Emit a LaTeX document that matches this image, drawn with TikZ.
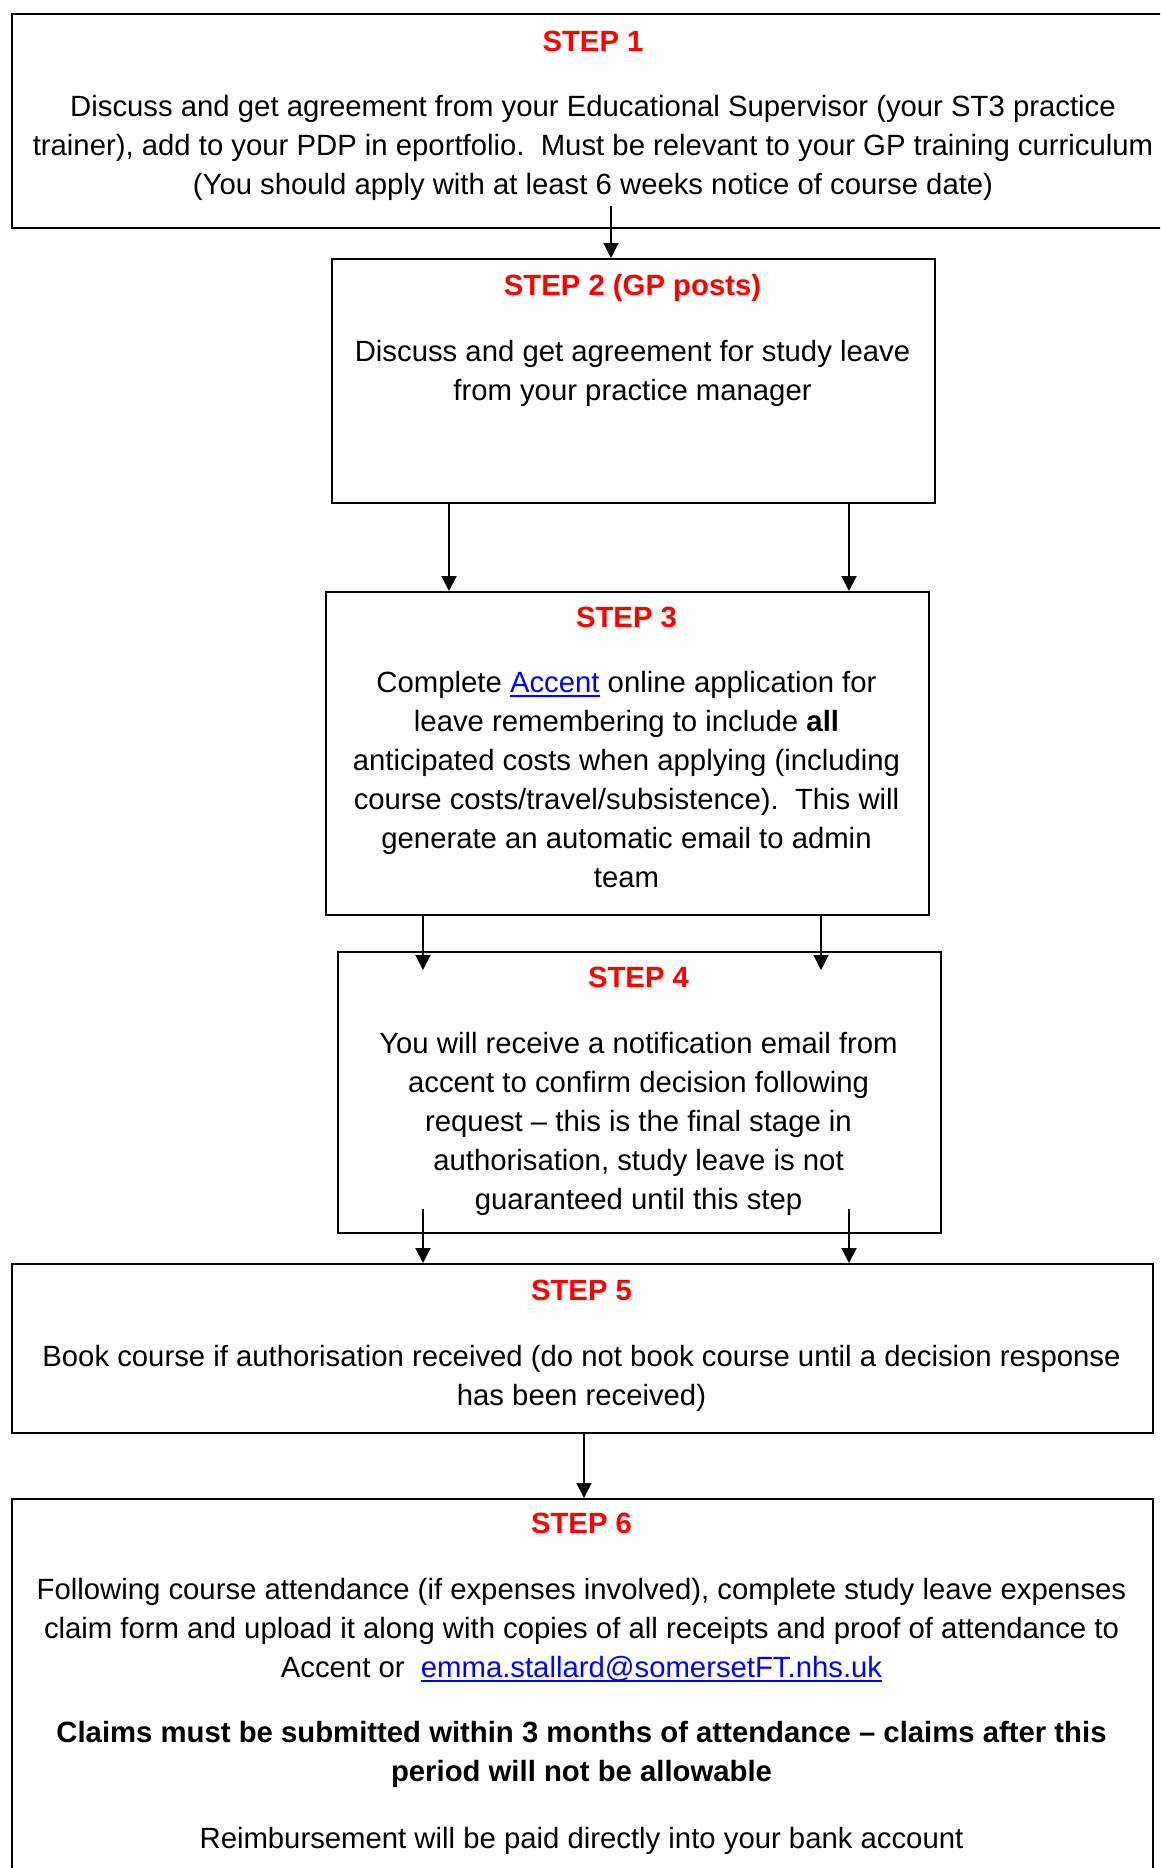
\documentclass[tikz,border=0pt]{standalone}
\usepackage{fontspec}
\setmainfont{Liberation Sans}
\usetikzlibrary{arrows.meta}
\definecolor{stepred}{HTML}{FF0000}
\definecolor{linkblue}{HTML}{0000FF}
\newcommand\mylink[1]{\textcolor{linkblue}{\setbox0\hbox{#1}\rlap{\rule[-5pt]{\wd0}{2pt}}\box0}}
\begin{document}
\begin{tikzpicture}[x=1pt,y=-1pt,
  stepbox/.style={draw=black, line width=2pt, rectangle, inner sep=0pt, anchor=north west},
  title/.style={font=\fontsize{29.3}{39}\selectfont\bfseries, text=stepred, inner sep=0pt, anchor=base},
  body/.style={font=\fontsize{29.3}{39}\selectfont, align=center, inner sep=0pt, anchor=base},
  arr/.style={line width=2pt, -{Triangle[width=15pt,length=15pt]}}]
\useasboundingbox (0,0) rectangle (1160,1868);
\clip (0,0) rectangle (1160,1868);
% boxes
\node[stepbox, minimum width=1164pt, minimum height=214pt] (s1) at (11,13) {};
\node[stepbox, minimum width=603pt, minimum height=244pt] (s2) at (331,258) {};
\node[stepbox, minimum width=603pt, minimum height=323pt] (s3) at (325,591) {};
\node[stepbox, minimum width=603pt, minimum height=281pt] (s4) at (337,951) {};
\node[stepbox, minimum width=1141pt, minimum height=169pt] (s5) at (11,1263) {};
\node[stepbox, minimum width=1141pt, minimum height=420pt] (s6) at (11,1498) {};
% texts (anchor base = baseline of the last line)
\node[title] (t1) at (593,52) {STEP 1};
\node[body] (b1) at (593,194) {Discuss and get agreement from your Educational Supervisor (your ST3 practice\\trainer), add to your PDP in eportfolio.\ \ Must be relevant to your GP training curriculum\\(You should apply with at least 6 weeks notice of course date)};
\node[title] (t2) at (632.5,295) {STEP 2 (GP posts)};
\node[body] (b2) at (632.5,400) {Discuss and get agreement for study leave\\from your practice manager};
\node[title] (t3) at (626.5,627) {STEP 3};
\node[body] (b3) at (626.5,887) {Complete \mylink{Accent} online application for\\leave remembering to include \textbf{all}\\anticipated costs when applying (including\\course costs/travel/subsistence).\ \ This will\\generate an automatic email to admin\\team};
\node[title] (t4) at (638.5,987) {STEP 4};
\node[body] (b4) at (638.5,1209) {You will receive a notification email from\\accent to confirm decision following\\request – this is the final stage in\\authorisation, study leave is not\\guaranteed until this step};
\node[title] (t5) at (581.5,1300) {STEP 5};
\node[body] (b5) at (581.5,1405) {Book course if authorisation received (do not book course until a decision response\\has been received)};
\node[title] (t6) at (581.5,1533) {STEP 6};
\node[body] (b6) at (581.5,1677) {Following course attendance (if expenses involved), complete study leave expenses\\claim form and upload it along with copies of all receipts and proof of attendance to\\Accent or\ \ \mylink{emma.stallard@somersetFT.nhs.uk}};
\node[body, font=\fontsize{29.3}{39}\selectfont\bfseries] (b6b) at (581.5,1781) {Claims must be submitted within 3 months of attendance – claims after this\\period will not be allowable};
\node[body] (b6c) at (581.5,1848) {Reimbursement will be paid directly into your bank account};
% connector positions
\coordinate (a12) at (611,206);
\coordinate (x23a) at (449,0);
\coordinate (x23b) at (849,0);
\coordinate (e34a) at (423,970);
\coordinate (e34b) at (821,970);
\coordinate (b45a) at (423,1209);
\coordinate (b45b) at (849,1209);
\coordinate (x56) at (584,0);
% arrows
\draw[arr] (a12) -- (a12 |- s2.north);
\draw[arr] (x23a |- s2.south) -- (x23a |- s3.north);
\draw[arr] (x23b |- s2.south) -- (x23b |- s3.north);
\draw[arr] (e34a |- s3.south) -- (e34a);
\draw[arr] (e34b |- s3.south) -- (e34b);
\draw[arr] (b45a) -- (b45a |- s5.north);
\draw[arr] (b45b) -- (b45b |- s5.north);
\draw[arr] (x56 |- s5.south) -- (x56 |- s6.north);
\end{tikzpicture}
\end{document}
